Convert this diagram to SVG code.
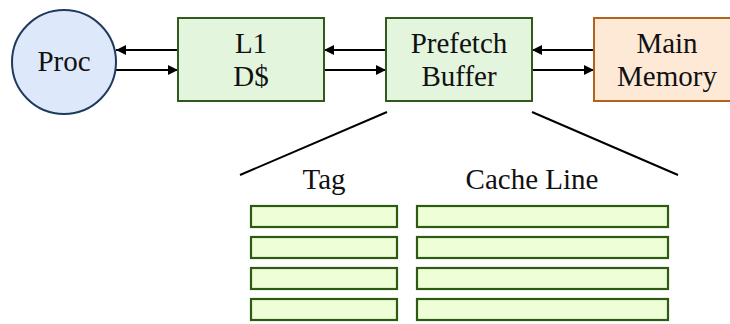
<svg xmlns="http://www.w3.org/2000/svg" width="730" height="324" viewBox="0 0 730 324">
<defs>
<marker id="ah" viewBox="0 0 10 10" refX="10" refY="5" markerWidth="5" markerHeight="5" orient="auto" markerUnits="strokeWidth">
<path d="M0,0 L10,5 L0,10 Z" fill="#000"/>
</marker>
</defs>
<g id="connectors" stroke="#000" stroke-width="2" fill="none">
<line x1="178" y1="50" x2="116" y2="50" marker-end="url(#ah)"/>
<line x1="116" y1="70" x2="178" y2="70" marker-end="url(#ah)"/>
<line x1="386" y1="50" x2="324" y2="50" marker-end="url(#ah)"/>
<line x1="324" y1="70" x2="386" y2="70" marker-end="url(#ah)"/>
<line x1="594" y1="50" x2="532" y2="50" marker-end="url(#ah)"/>
<line x1="532" y1="70" x2="594" y2="70" marker-end="url(#ah)"/>
<line x1="387" y1="112" x2="240" y2="175"/>
<line x1="532" y1="112" x2="678" y2="175"/>
</g>
<g id="proc">
<circle cx="64" cy="62" r="52" fill="#dde9fa" stroke="#1e3a5f" stroke-width="2"/>
<text x="64" y="71" font-family="Liberation Serif" font-size="29" text-anchor="middle" fill="#111">Proc</text>
</g>
<g id="l1">
<rect x="178" y="18" width="146" height="83" fill="#e3f5dc" stroke="#2f5a1c" stroke-width="2"/>
<text x="251" y="53" font-family="Liberation Serif" font-size="29" text-anchor="middle" fill="#111">L1</text>
<text x="251" y="86" font-family="Liberation Serif" font-size="29" text-anchor="middle" fill="#111">D$</text>
</g>
<g id="prefetch">
<rect x="386" y="18" width="146" height="83" fill="#e3f5dc" stroke="#2f5a1c" stroke-width="2"/>
<text x="459" y="53" font-family="Liberation Serif" font-size="29" text-anchor="middle" fill="#111">Prefetch</text>
<text x="459" y="86" font-family="Liberation Serif" font-size="29" text-anchor="middle" fill="#111">Buffer</text>
</g>
<g id="memory">
<rect x="594" y="18" width="150" height="83" fill="#fde9d6" stroke="#b0631c" stroke-width="2"/>
<text x="667" y="53" font-family="Liberation Serif" font-size="29" text-anchor="middle" fill="#111">Main</text>
<text x="667" y="86" font-family="Liberation Serif" font-size="29" text-anchor="middle" fill="#111">Memory</text>
</g>
<g id="tags" fill="#eeffd8" stroke="#2f5a12" stroke-width="2.2">
<text x="324" y="189" font-family="Liberation Serif" font-size="29" text-anchor="middle" fill="#111" stroke="none">Tag</text>
<rect x="251" y="206" width="146" height="21"/>
<rect x="251" y="237" width="146" height="21"/>
<rect x="251" y="268" width="146" height="21"/>
<rect x="251" y="299" width="146" height="21"/>
</g>
<g id="lines" fill="#eeffd8" stroke="#2f5a12" stroke-width="2.2">
<text x="532" y="189" font-family="Liberation Serif" font-size="29" text-anchor="middle" fill="#111" stroke="none">Cache Line</text>
<rect x="417" y="206" width="251" height="21"/>
<rect x="417" y="237" width="251" height="21"/>
<rect x="417" y="268" width="251" height="21"/>
<rect x="417" y="299" width="251" height="21"/>
</g>
</svg>
